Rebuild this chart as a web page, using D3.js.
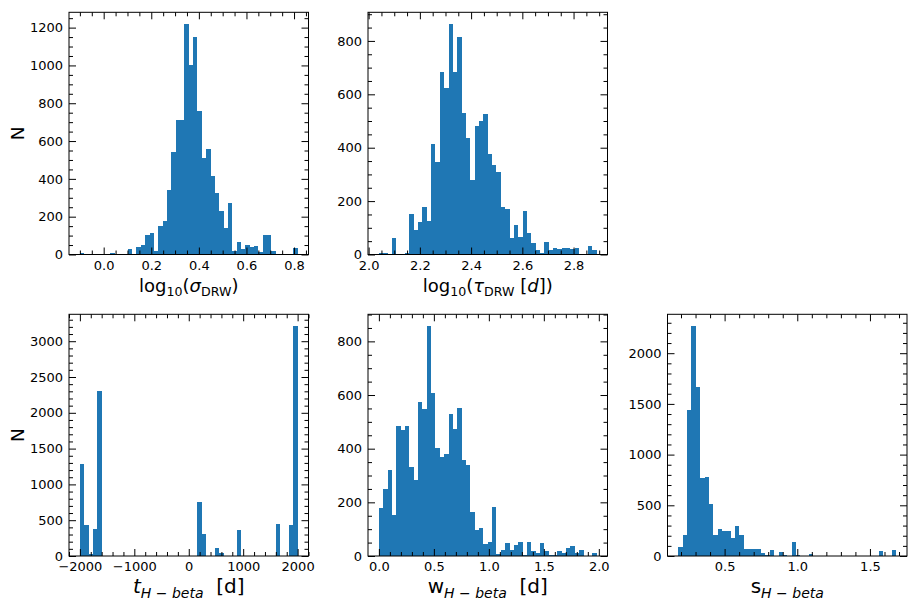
<!DOCTYPE html>
<html><head><meta charset="utf-8">
<script src="https://cdn.jsdelivr.net/npm/d3@7"></script>
<style>
body{margin:0;background:#fff}
text{font-family:"DejaVu Sans",sans-serif;fill:#000}
</style>
</head><body>
<svg id="c" width="924" height="608"></svg>
<script>
// ---- data (50-bin histograms) ----
const sigmaRange = [-0.10, 0.815];
const sigmaCounts = [6,0,5,0,0,0,0,7,0,0, 5,28,0,39,51,102,113,18,150,176, 341,544,711,711,1220,1002,1151,759,510,558, 415,323,229,141,272,21,65,28,49,39, 44,14,102,102,18,0,0,0,0,34];

const tauRange = [2.04, 2.89];
const tauCounts = [5,5,0,61,0,0,5,151,91,121, 177,125,414,347,684,624,864,684,815,530, 436,280,481,500,526,376,335,309,177,170, 61,110,65,162,80,42,16,5,46,16, 24,20,24,24,20,24,0,0,31,16];

const tRange = [-2000, 2000];
const tCounts = [1290,429,30,373,2302,0,0,0,0,0, 0,0,0,0,0,0,0,0,0,0, 0,0,0,0,0,0,0,750,303,0, 0,107,37,0,0,0,359,0,0,0, 0,0,0,0,0,443,0,0,429,3215];

const wRange = [0.0, 1.98];
const wCounts = [179,250,321,153,485,470,485,332,284,575, 549,858,608,403,369,381,530,474,552,358, 340,164,97,104,45,52,183,7,22,49, 22,41,52,5,51,19,11,49,19,4, 4,19,10,30,37,11,22,0,0,10];

const sRange = [0.182, 1.68];
const sCounts = [86,204,1438,2270,1665,767,776,510,204,263, 243,243,174,293,204,66,66,66,66,26, 7,56,0,36,7,0,135,10,0,0, 16,0,0,0,0,0,0,0,0,0, 0,0,0,0,0,0,46,0,0,56];

// tick settings
const sigmaXTicks = [0.0,0.2,0.4,0.6,0.8], sigmaXMinor = 0.05, sigmaYTicks=[0,200,400,600,800,1000,1200], sigmaYMinor=50;
const tauXTicks = [2.0,2.2,2.4,2.6,2.8], tauXMinor = 0.05, tauYTicks=[0,200,400,600,800], tauYMinor=50;
const tXTicks = [-2000,-1000,0,1000,2000], tXMinor = 200, tYTicks=[0,500,1000,1500,2000,2500,3000], tYMinor=100;
const wXTicks = [0.0,0.5,1.0,1.5,2.0], wXMinor = 0.1, wYTicks=[0,200,400,600,800], wYMinor=50;
const sXTicks = [0.5,1.0,1.5], sXMinor = 0.1, sYTicks=[0,500,1000,1500,2000], sYMinor=100;

const svg = d3.select('#c');
const PW = 239.5;
const rows = [{top:12.3,bottom:254.5},{top:314.3,bottom:556}];
const cols = [69, 368, 667.5];

const panels = [
  {range:sigmaRange, counts:sigmaCounts, xt:sigmaXTicks, xm:sigmaXMinor, yt:sigmaYTicks, ym:sigmaYMinor, fmt:d3.format('.1f'), yfmt:d3.format('d'), col:0,row:0, ylabel:true, label:'sigma'},
  {range:tauRange, counts:tauCounts, xt:tauXTicks, xm:tauXMinor, yt:tauYTicks, ym:tauYMinor, fmt:d3.format('.1f'), yfmt:d3.format('d'), col:1,row:0, label:'tau'},
  {range:tRange, counts:tCounts, xt:tXTicks, xm:tXMinor, yt:tYTicks, ym:tYMinor, fmt:v=>String(v).replace('-','\u2212'), yfmt:d3.format('d'), col:0,row:1, ylabel:true, label:'t'},
  {range:wRange, counts:wCounts, xt:wXTicks, xm:wXMinor, yt:wYTicks, ym:wYMinor, fmt:d3.format('.1f'), yfmt:d3.format('d'), col:1,row:1, label:'w'},
  {range:sRange, counts:sCounts, xt:sXTicks, xm:sXMinor, yt:sYTicks, ym:sYMinor, fmt:d3.format('.1f'), yfmt:d3.format('d'), col:2,row:1, label:'s'}
];

function minorVals(dom, step){
  const out=[]; const s=Math.ceil(dom[0]/step-1e-9), e=Math.floor(dom[1]/step+1e-9);
  for(let i=s;i<=e;i++) out.push(+(i*step).toFixed(6));
  return out;
}

panels.forEach(p=>{
  const left = cols[p.col], right = left+PW;
  const top = rows[p.row].top, bottom = rows[p.row].bottom;
  const [mn,mx] = p.range, r = mx-mn, n = p.counts.length;
  const x = d3.scaleLinear().domain([mn-0.05*r, mx+0.05*r]).range([left,right]);
  const y = d3.scaleLinear().domain([0, d3.max(p.counts)*1.05]).range([bottom,top]);
  const bins = p.counts.map((c,i)=>({x0:mn+i*r/n, x1:mn+(i+1)*r/n, c}));
  const g = svg.append('g');
  g.selectAll('rect.bar').data(bins.filter(b=>b.c>0)).join('rect')
    .attr('x',b=>x(b.x0)).attr('width',b=>x(b.x1)-x(b.x0))
    .attr('y',b=>y(b.c)).attr('height',b=>y(0)-y(b.c))
    .attr('fill','#1f77b4').attr('shape-rendering','crispEdges');

  const xd = x.domain(), yd = y.domain();
  const xt = p.xt.filter(v=>v>=xd[0]&&v<=xd[1]);
  const xmv = minorVals(xd,p.xm).filter(v=>!p.xt.some(t=>Math.abs(t-v)<1e-9));
  const ymv = minorVals(yd,p.ym).filter(v=>!p.yt.some(t=>Math.abs(t-v)<1e-9));
  function style(sel){ sel.select('.domain').remove(); sel.selectAll('line').attr('stroke','#000').attr('stroke-width',1); sel.selectAll('text').attr('font-size',13).attr('fill','#000').attr('font-family','DejaVu Sans'); }
  g.append('g').attr('transform',`translate(0,${bottom})`).call(d3.axisBottom(x).tickValues(xt).tickFormat(p.fmt).tickSizeInner(-7).tickSizeOuter(0).tickPadding(6)).call(style);
  g.append('g').attr('transform',`translate(0,${bottom})`).call(d3.axisBottom(x).tickValues(xmv).tickFormat('').tickSizeInner(-4).tickSizeOuter(0)).call(style);
  g.append('g').attr('transform',`translate(0,${top})`).call(d3.axisTop(x).tickValues(xt).tickFormat('').tickSizeInner(-7).tickSizeOuter(0)).call(style);
  g.append('g').attr('transform',`translate(0,${top})`).call(d3.axisTop(x).tickValues(xmv).tickFormat('').tickSizeInner(-4).tickSizeOuter(0)).call(style);
  g.append('g').attr('transform',`translate(${left},0)`).call(d3.axisLeft(y).tickValues(p.yt).tickFormat(p.yfmt).tickSizeInner(-7).tickSizeOuter(0).tickPadding(6)).call(style);
  g.append('g').attr('transform',`translate(${left},0)`).call(d3.axisLeft(y).tickValues(ymv).tickFormat('').tickSizeInner(-4).tickSizeOuter(0)).call(style);
  g.append('g').attr('transform',`translate(${right},0)`).call(d3.axisRight(y).tickValues(p.yt).tickFormat('').tickSizeInner(-7).tickSizeOuter(0)).call(style);
  g.append('g').attr('transform',`translate(${right},0)`).call(d3.axisRight(y).tickValues(ymv).tickFormat('').tickSizeInner(-4).tickSizeOuter(0)).call(style);
  g.append('rect').attr('x',left).attr('y',top).attr('width',PW).attr('height',bottom-top)
    .attr('fill','none').attr('stroke','#000').attr('stroke-width',1);

  // x label
  const big = p.row===1;
  const fs = big?20:18, sfs = big?14:12.6, sd = big?4.5:4;
  const cx = (left+right)/2, ly = bottom+37.3;
  const t = g.append('text').attr('x',cx).attr('y',ly).attr('text-anchor','middle').attr('font-size',fs);
  const sub = (txt,italic)=>{ t.append('tspan').attr('dy',sd).attr('font-size',sfs).attr('font-style',italic?'italic':'normal').text(txt); };
  const norm = (txt,dy,italic)=>{ const s=t.append('tspan').text(txt).attr('font-style',italic?'italic':'normal'); if(dy) s.attr('dy',dy); };
  if(p.label==='sigma'){ norm('log'); sub('10'); norm('(',-sd); norm('\u03c3',0,true); sub('DRW'); norm(')',-sd); }
  if(p.label==='tau'){ norm('log'); sub('10'); norm('(',-sd); norm('\u03c4',0,true); sub('DRW'); norm('\u00a0[',-sd); norm('d',0,true); norm('])'); }
  if(p.label==='t'){ norm('t',0,true); sub('H\u00a0\u2212\u00a0beta',true); norm('\u00a0\u00a0[d]',-sd); }
  if(p.label==='w'){ norm('w'); sub('H\u00a0\u2212\u00a0beta',true); norm('\u00a0\u00a0[d]',-sd); }
  if(p.label==='s'){ norm('s'); sub('H\u00a0\u2212\u00a0beta',true); }
  if(p.ylabel){
    const yc=(top+bottom)/2;
    g.append('text').attr('transform',`translate(${23.5},${yc}) rotate(-90)`).attr('text-anchor','middle').attr('font-size',18.5).text('N');
  }
});
</script>
</body></html>
